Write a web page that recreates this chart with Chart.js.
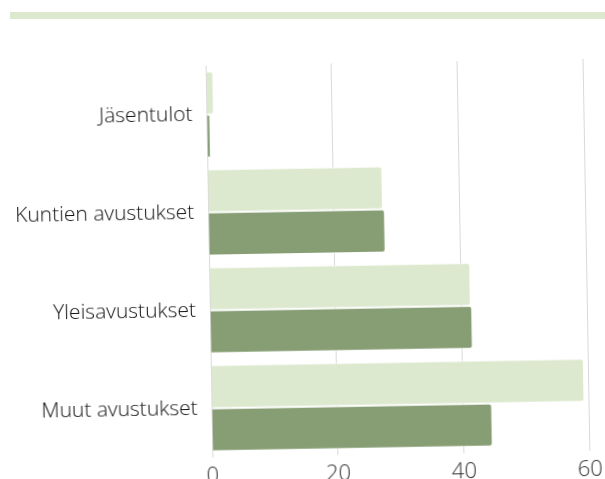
<!DOCTYPE html>
<html>
<head>
<meta charset="utf-8">
<script src="https://cdn.jsdelivr.net/npm/chart.js@4.4.0/dist/chart.umd.min.js"></script>
<style>
  html, body { margin: 0; padding: 0; background: #fff; overflow: hidden; width: 605px; height: 479px; }
  #band { position: absolute; left: 10px; top: 12px; width: 595px; height: 7px; background: #dde9cf; }
  #wrap { position: absolute; left: 0; top: 0; width: 605px; height: 494px; transform: rotate(-1deg); transform-origin: 302px 260px; }
</style>
</head>
<body>
<div id="band"></div>
<div id="wrap"><canvas id="barChart"></canvas></div>
<script>
var categories = ['Jäsentulot', 'Kuntien avustukset', 'Yleisavustukset', 'Muut avustukset'];
var lightValues = [1.2, 27.8, 41.5, 59.3];
var darkValues = [0.6, 28.1, 41.7, 44.6];
var tickValues = [0, 20, 40, 60];

var ctx = document.getElementById('barChart').getContext('2d');
var myChart = new Chart(ctx, {
    type: 'bar',
    data: {
        labels: categories,
        datasets: [{
            label: 'A',
            data: lightValues,
            backgroundColor: '#dde9cf',
            borderColor: '#ffffff',
            borderWidth: 1,
            borderRadius: 3,
            borderSkipped: 'start'
        }, {
            label: 'B',
            data: darkValues,
            backgroundColor: '#879e74',
            borderColor: '#ffffff',
            borderWidth: 1,
            borderRadius: 3,
            borderSkipped: 'start'
        }]
    },
    options: {
        indexAxis: 'y',
        responsive: true,
        maintainAspectRatio: false,
        animation: false,
        layout: { padding: { top: 64, right: 1, left: 2, bottom: 0 } },
        plugins: { legend: { display: false }, tooltip: { enabled: false } },
        datasets: { bar: { categoryPercentage: 0.88, barPercentage: 1 } },
        scales: {
            x: {
                min: 0,
                max: 60,
                afterBuildTicks: function (axis) {
                    axis.ticks = tickValues.map(function (v) { return { value: v }; });
                },
                grid: { color: '#d9d9d9', drawTicks: false },
                border: { display: false },
                ticks: {
                    color: '#333',
                    padding: 6,
                    font: { family: 'Open Sans', size: 22, weight: 300 }
                }
            },
            y: {
                grid: { display: false, drawTicks: false },
                border: { display: false },
                ticks: {
                    color: '#111',
                    padding: 14,
                    font: { family: 'Open Sans', size: 21, weight: 300 }
                }
            }
        }
    }
});
</script>
</body>
</html>
